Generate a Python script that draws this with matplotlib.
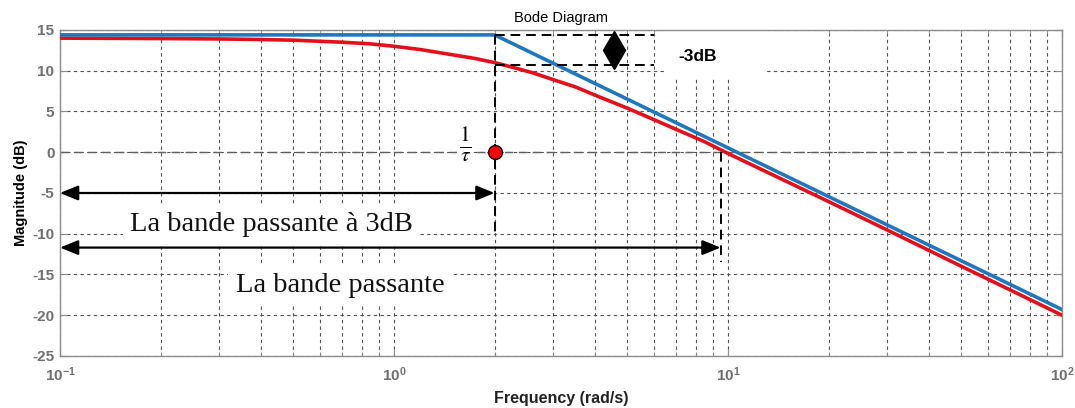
import numpy as np
import matplotlib.pyplot as plt
from matplotlib.patches import Rectangle
from matplotlib.ticker import LogLocator, NullFormatter

plt.rcParams['axes.unicode_minus'] = False

# values
freq_red = [0.1, 0.2, 0.3, 0.4, 0.5, 0.7, 0.85, 1.0, 1.2, 1.5, 1.75, 2.0,
            2.3, 2.6, 3.0, 3.5, 4.0, 5.0, 6.0, 7.0, 8.5, 10.0, 15.0, 20.0,
            30.0, 50.0, 70.0, 100.0]
mag_red = [14.0, 13.95, 13.9, 13.83, 13.75, 13.5, 13.3, 13.0, 12.6, 11.95,
           11.5, 11.0, 10.35, 9.75, 8.9, 8.0, 7.0, 5.4, 4.0, 2.8, 1.3, -0.15,
           -3.6, -6.05, -9.55, -14.0, -16.9, -20.0]

freq_blue = [0.1, 2.0, 100.0]
mag_blue = [14.4, 14.4, -19.3]

w_cut = 2.0        # 1/tau
w_band = 9.5       # bandwidth limit
gain_top = 14.4    # static gain (asymptote)
gain_3db = 10.7    # gain - 3 dB
w_box = 6.0        # end of the -3dB dashed lines
w_diam = 4.56      # position of the double arrow

y_ticks = [15, 10, 5, 0, -5, -10, -15, -20, -25]

fig = plt.figure(figsize=(10.75, 4.08), dpi=100)
ax = fig.add_axes([0.0558, 0.1275, 0.9321, 0.799])

ax.set_xscale('log')
ax.set_xlim(0.1, 100)
ax.set_ylim(-25, 15)
ax.set_yticks(y_ticks)

ax.xaxis.set_minor_locator(LogLocator(base=10, subs=np.arange(2, 10)))
ax.xaxis.set_minor_formatter(NullFormatter())

grid_kw = dict(color='#505050', linestyle=(0, (3, 3)), linewidth=0.8)
ax.grid(True, which='major', axis='both', **grid_kw)
ax.grid(True, which='minor', axis='x', **grid_kw)
ax.set_axisbelow(True)

for s in ax.spines.values():
    s.set_color('#8c8c8c')
    s.set_linewidth(1.0)
ax.tick_params(which='both', direction='in', top=True, right=True,
               colors='#8c8c8c', labelcolor='#707070')
ax.tick_params(which='major', length=5)
ax.tick_params(which='minor', length=3)
ax.tick_params(axis='x', pad=7)
ax.tick_params(axis='y', pad=4)
for lab in ax.get_yticklabels() + ax.get_xticklabels():
    lab.set_fontweight('bold')
    lab.set_fontsize(11)
    lab.set_family('Liberation Sans')

# 0 dB line, longer dashes
ax.axhline(0, color='#606060', linestyle=(0, (6, 4)), linewidth=1.0, zorder=1)

# white patch behind the -3dB label (hides the grid there)
ax.add_patch(Rectangle((6.5, 9.1), 6.5, 5.9, facecolor='white',
                       edgecolor='none', zorder=1.5))

ax.text(0.43, -8.9, 'La bande passante à 3dB', family='Liberation Serif',
        fontsize=20.5, ha='center', va='center', color='#111111',
        bbox=dict(facecolor='white', edgecolor='none', pad=5), zorder=2)
ax.text(0.69, -16.3, 'La bande passante', family='Liberation Serif',
        fontsize=20.5, ha='center', va='center', color='#111111',
        bbox=dict(facecolor='white', edgecolor='none', pad=6), zorder=2)
ax.text(8.1, 11.7, '-3dB', family='Liberation Sans', fontweight='bold',
        fontsize=12.5, ha='center', va='center', color='black', zorder=2)
ax.text(1.63, 0.9, r'$\frac{1}{\tau}$', fontsize=22, ha='center', va='center',
        color='black', math_fontfamily='stix',
        bbox=dict(facecolor='white', edgecolor='none', pad=1), zorder=2)

# curves
ax.plot(freq_red, mag_red, color='#e3101b', linewidth=2.6, zorder=4)
ax.plot(freq_blue, mag_blue, color='#1f78bd', linewidth=2.6, zorder=5)

# black dashed construction lines
dash_kw = dict(color='black', linestyle=(0, (5, 3)), linewidth=1.4, zorder=6)
ax.plot([w_cut, w_cut], [gain_top, -9.8], **dash_kw)
ax.plot([w_cut, w_box], [gain_top, gain_top], **dash_kw)
ax.plot([w_cut, w_box], [gain_3db, gain_3db], **dash_kw)
ax.plot([w_band, w_band], [0, -13.5], **dash_kw)

# -3dB double arrow (diamond)
ax.plot([w_diam, w_diam], [gain_top, gain_3db], color='black', linewidth=1.0, zorder=6)
ax.plot([w_diam], [(gain_top + gain_3db) / 2], marker='d', markersize=19,
        color='black', zorder=7)

# bandwidth arrows
arr_kw = dict(arrowstyle='<|-|>,head_length=1.1,head_width=0.45',
              color='black', linewidth=1.6, shrinkA=0, shrinkB=0)
ax.annotate('', xy=(w_cut, -5.0), xytext=(0.1, -5.0),
            arrowprops=arr_kw, zorder=7)
ax.annotate('', xy=(w_band, -11.7), xytext=(0.1, -11.7),
            arrowprops=arr_kw, zorder=7)

# cut-off point
ax.plot([w_cut], [0], marker='o', markersize=10, markerfacecolor='#ff0000',
        markeredgecolor='black', markeredgewidth=1.0, zorder=8)

ax.set_title('Bode Diagram', fontsize=10.5, family='Liberation Sans', pad=6)
ax.set_ylabel('Magnitude (dB)', fontsize=10.5, fontweight='bold',
              family='Liberation Sans', labelpad=3)
ax.set_xlabel('Frequency (rad/s)', fontsize=11.5, fontweight='bold',
              family='Liberation Sans', color='#222222', labelpad=5)

fig.savefig('out.png', dpi=100)
